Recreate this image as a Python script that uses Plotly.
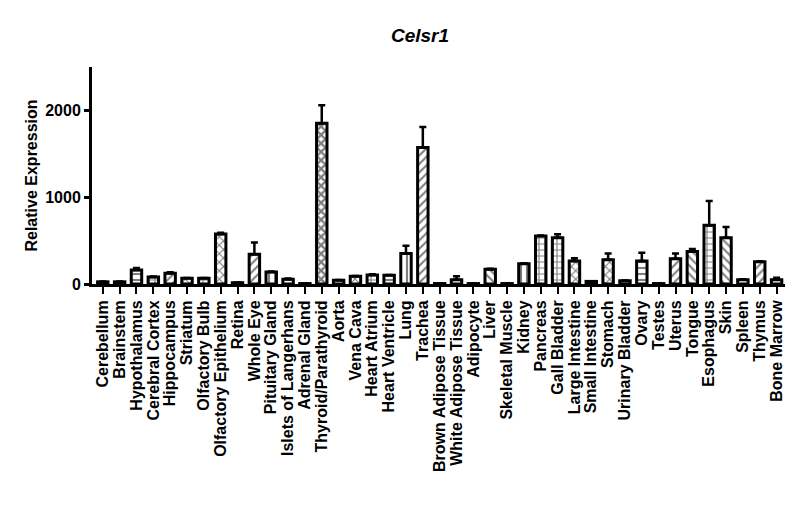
import plotly.graph_objects as go

# tissues along the x axis
tissues = ['Cerebellum', 'Brainstem', 'Hypothalamus', 'Cerebral Cortex', 'Hippocampus',
           'Striatum', 'Olfactory Bulb', 'Olfactory Epithelium', 'Retina', 'Whole Eye',
           'Pituitary Gland', 'Islets of Langerhans', 'Adrenal Gland', 'Thyroid/Parathyroid',
           'Aorta', 'Vena Cava', 'Heart Atrium', 'Heart Ventricle', 'Lung', 'Trachea',
           'Brown Adipose Tissue', 'White Adipose Tissue', 'Adipocyte', 'Liver',
           'Skeletal Muscle', 'Kidney', 'Pancreas', 'Gall Bladder', 'Large Intestine',
           'Small Intestine', 'Stomach', 'Urinary Bladder', 'Ovary', 'Testes', 'Uterus',
           'Tongue', 'Esophagus', 'Skin', 'Spleen', 'Thymus', 'Bone Marrow']

# mean relative expression
expression = [25, 25, 160, 80, 125, 65, 65, 575, 15, 343,
              138, 54, 5, 1853, 42, 88, 103, 100, 350, 1572,
              5, 50, 5, 170, 5, 234, 553, 534, 265, 30,
              280, 38, 265, 5, 292, 373, 677, 534, 50, 257, 50]

# upper error (SEM)
sem = [4, 4, 25, 5, 10, 5, 5, 15, 2, 135,
       5, 8, 0, 207, 5, 5, 8, 5, 92, 238,
       0, 38, 0, 5, 0, 5, 5, 40, 31, 3,
       70, 3, 96, 0, 58, 31, 280, 123, 5, 5, 23]

# fill hatch for each bar (prism style)
hatches = ['', '', '-', '+', '/', 'x', '+', 'x', '', '/',
           '|', '', '', 'x', '-', 'x', '+', '-', '|', '/',
           '', '-', '', '\\', '', '|', '+', '+', 'x', '',
           'x', '', '-', '', '/', '\\', '+', '\\', '', '/', '']
hatch_solid = [0.6 if t == 'Thyroid/Parathyroid' else 0.35 for t in tissues]

yticks = [0, 1000, 2000]

bold = dict(family='Liberation Sans, Arial, sans-serif', size=16, color='black', weight='bold')

fig = go.Figure()
fig.add_trace(go.Bar(
    x=tissues, y=expression,
    width=0.62,
    marker=dict(color='white',
                line=dict(color='black', width=3),
                pattern=dict(shape=hatches, fgcolor='black', bgcolor='white',
                             size=6, solidity=hatch_solid)),
    error_y=dict(type='data', array=sem, arrayminus=[0] * len(sem), symmetric=False,
                 color='black', thickness=2.5, width=3.5),
))

# page body has an 8px margin, so margins are shifted to line up with the reference
fig.update_layout(
    width=800, height=522,
    margin=dict(l=84, r=23, t=59, b=246),
    plot_bgcolor='white', paper_bgcolor='white',
    showlegend=False,
    title=dict(text='Celsr1', x=412 / 800, xref='container', xanchor='center',
               y=1 - 27 / 522, yref='container', yanchor='middle',
               font=dict(family='Liberation Sans, Arial, sans-serif', size=19,
                         color='black', weight='bold', style='italic')),
)
fig.update_xaxes(
    type='category', range=[-0.64, 40.5],
    tickmode='array', tickvals=tissues,
    showline=True, linecolor='black', linewidth=3,
    ticks='outside', ticklen=7, tickwidth=2, tickcolor='black',
    tickangle=-90, tickfont=bold, showgrid=False,
)
fig.update_yaxes(
    range=[0, 2500], tickvals=yticks,
    showline=True, linecolor='black', linewidth=3,
    ticks='outside', ticklen=5, tickwidth=2.5, tickcolor='black',
    tickfont=bold, showgrid=False, zeroline=False,
    title=dict(text='Relative Expression', font=bold, standoff=4),
)

fig.write_html('out.html')
